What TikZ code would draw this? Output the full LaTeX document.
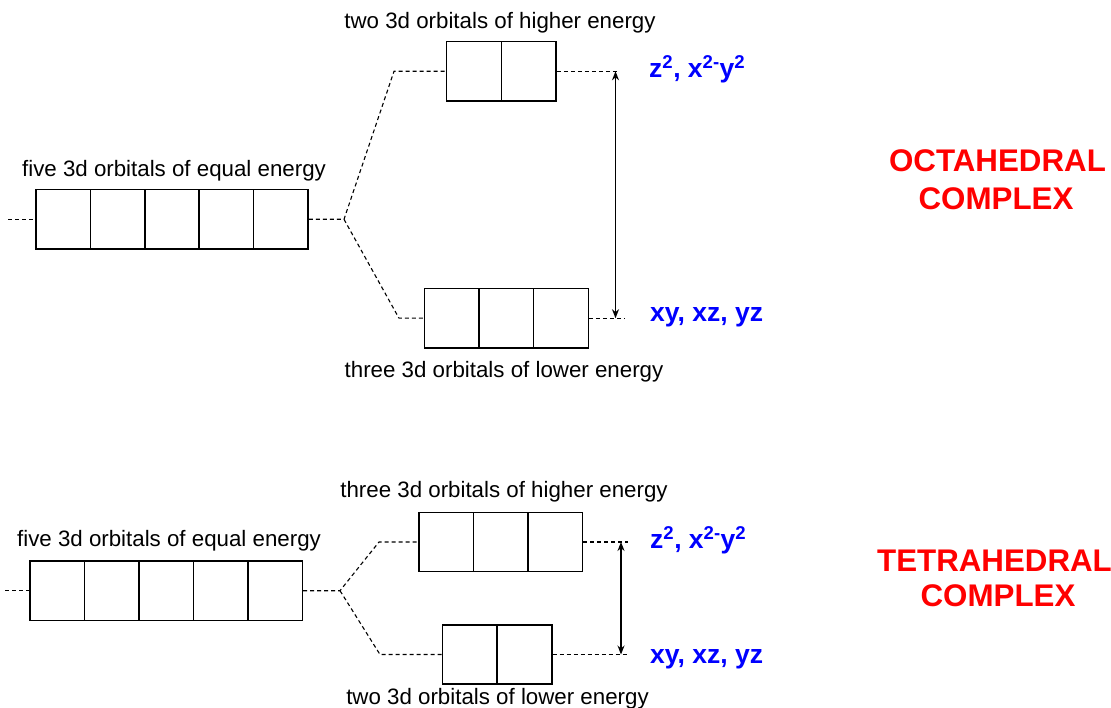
\documentclass[tikz,border=0pt]{standalone}
\usepackage{fontspec}
\setmainfont{Liberation Sans}
\usetikzlibrary{arrows.meta}
\begin{document}
\begin{tikzpicture}[x=1pt,y=-1pt,
  orb/.style={draw,line width=1.4pt,minimum width=54.5pt,minimum height=59.3pt,inner sep=0pt,anchor=center},
  lvl/.style={dashed,dash pattern=on 4pt off 3pt,line width=1.1pt},
  gap/.style={{Stealth[length=9pt,width=7pt]}-{Stealth[length=9pt,width=7pt]},line width=1.4pt},
  lab/.style={font=\fontsize{22.3}{26}\selectfont,anchor=base,inner sep=0pt},
  orbname/.style={font=\fontsize{26.5}{30}\selectfont\bfseries,text=blue,anchor=base west,inner sep=0pt},
  cplx/.style={font=\fontsize{31.3}{36}\selectfont\bfseries,text=red,anchor=base,inner sep=0pt}]
\useasboundingbox (0,0) rectangle (1111,708);

% ---------------- OCTAHEDRAL ----------------
\foreach \i/\x in {1/63.2,2/117.6,3/172.0,4/226.4,5/280.8}
  \node[orb] (o\i) at (\x,219.3) {};
\foreach \i/\x in {1/474.0,2/528.8}
  \node[orb] (ot\i) at (\x,71.3) {};
\foreach \i/\x in {1/451.6,2/506.3,3/561.0}
  \node[orb] (ob\i) at (\x,318.2) {};

\coordinate (oL) at (8,219.3);
\coordinate (oS) at (344,219.3);
\coordinate (oTL) at (394,71.3);
\coordinate (oTR) at (619,71.3);
\coordinate (oBL) at (399,318.2);
\coordinate (oBR) at (624,318.2);
\coordinate (oAT) at (615.5,71.3);
\coordinate (oAB) at (615.5,318.2);

\draw[lvl] (oL) -- (o1.west);
\draw[lvl] (o5.east) -- (oS) -- (oTL) -- (ot1.west);
\draw[lvl] (oS) -- (oBL) -- (ob1.west);
\draw[lvl] (ot2.east) -- (oTR);
\draw[lvl] (ob3.east) -- (oBR);
\draw[gap] (oAT) -- (oAB);

\node[lab] (ol1) at (500,28.3) {two 3d orbitals of higher energy};
\node[lab] (ol2) at (174,176.7) {five 3d orbitals of equal energy};
\node[lab] (ol3) at (504,377.3) {three 3d orbitals of lower energy};
\node[orbname] (on1) at (649,77.7) {z\textsuperscript{2}, x\textsuperscript{2-}y\textsuperscript{2}};
\node[orbname] (on2) at (650,321.7) {xy, xz, yz};
\node[cplx] (oc1) at (997.5,171.7) {OCTAHEDRAL};
\node[cplx] (oc2) at (996,210) {COMPLEX};

% ---------------- TETRAHEDRAL ----------------
\foreach \i/\x in {1/57.2,2/111.7,3/166.2,4/220.6,5/275.1}
  \node[orb] (f\i) at (\x,590.7) {};
\foreach \i/\x in {1/446.3,2/500.8,3/555.4}
  \node[orb] (tt\i) at (\x,542.0) {};
\foreach \i/\x in {1/469.7,2/524.6}
  \node[orb] (tb\i) at (\x,654.5) {};

\coordinate (tL) at (5,590.7);
\coordinate (tS) at (340,590.7);
\coordinate (tTL) at (379,542.0);
\coordinate (tTR) at (628,542.0);
\coordinate (tBL) at (380,654.5);
\coordinate (tBR) at (628,654.5);
\coordinate (tAT) at (621,542.0);
\coordinate (tAB) at (621,654.5);

\draw[lvl] (tL) -- (f1.west);
\draw[lvl] (f5.east) -- (tS) -- (tTL) -- (tt1.west);
\draw[lvl] (tS) -- (tBL) -- (tb1.west);
\draw[lvl] (tt3.east) -- (tTR);
\draw[lvl] (tb2.east) -- (tBR);
\draw[gap] (tAT) -- (tAB);

\node[lab] (tl1) at (504,497.3) {three 3d orbitals of higher energy};
\node[lab] (tl2) at (169,546.7) {five 3d orbitals of equal energy};
\node[lab] (tl3) at (497.5,704.7) {two 3d orbitals of lower energy};
\node[orbname] (tn1) at (650,548.3) {z\textsuperscript{2}, x\textsuperscript{2-}y\textsuperscript{2}};
\node[orbname] (tn2) at (650,663.3) {xy, xz, yz};
\node[cplx] (tc1) at (994.5,571.7) {TETRAHEDRAL};
\node[cplx] (tc2) at (998,606.7) {COMPLEX};
\end{tikzpicture}
\end{document}
